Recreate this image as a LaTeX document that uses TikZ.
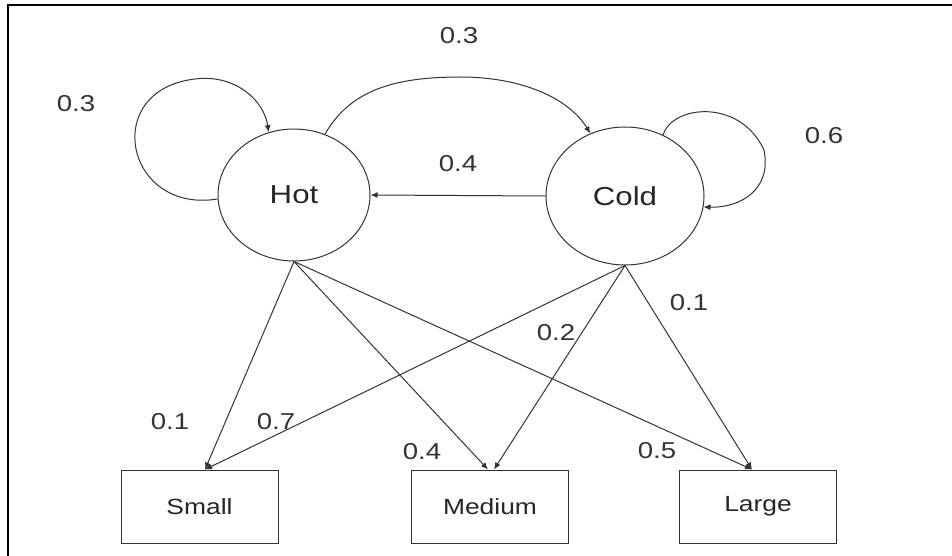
\documentclass[tikz,border=0pt]{standalone}
\usepackage{fontspec}
\setmainfont{Liberation Sans}[FakeStretch=1.2]
\usetikzlibrary{shapes.geometric,arrows.meta}
\begin{document}
\begin{tikzpicture}[x=1pt,y=-1pt,
  ink/.style={draw=black!80,line width=1pt},
  state/.style={ellipse,ink,inner sep=0pt,font=\fontsize{26}{30}\selectfont,text=black!85},
  obs/.style={rectangle,ink,inner sep=0pt,minimum width=157pt,minimum height=73pt,font=\fontsize{22}{26}\selectfont,text=black!85},
  arr/.style={ink,-{Latex[length=7pt,width=6pt]}},
  prob/.style={font=\fontsize{23}{27}\selectfont,text=black!80,inner sep=0pt}]
\useasboundingbox (0,0) rectangle (952,556);
% frame edges
\draw[line width=2.5pt] (8,556) -- (8,5) -- (952,5);

% hidden states
\node[state,minimum width=152pt,minimum height=132pt] (hot) at (294,195) {Hot};
\node[state,minimum width=158pt,minimum height=138pt] (cold) at (625,196) {Cold};

% observations
\node[obs] (small)  at (199.5,506.5) {Small};
\node[obs] (medium) at (490,506.5) {Medium};
\node[obs] (large)  at (758,506.5) {Large};

% transitions
\draw[arr] (hot.183) .. controls (125,214) and (100,90) .. (195,79)
           .. controls (235,74) and (264,100) .. (hot.112);
\draw[arr] (cold.58) .. controls (672,105) and (740,98) .. (764,150)
           .. controls (772,190) and (740,208) .. (cold.352);
\draw[arr] (hot.63) .. controls (350,90) and (395,77) .. (460,77)
           .. controls (525,77) and (570,100) .. (cold.119);
\draw[arr] (cold.180) -- (hot.east);

% emissions
\draw[arr] (hot.south) -- ([xshift=5.5pt]small.north);
\draw[arr] (hot.south) -- ([xshift=-2pt]medium.north);
\draw[arr] (hot.south) -- ([xshift=-6pt]large.north);
\draw[arr] (cold.south) -- ([xshift=5.5pt]small.north);
\draw[arr] (cold.south) -- ([xshift=4pt]medium.north);
\draw[arr] (cold.south) -- ([xshift=-6pt]large.north);

% probabilities
\node[prob] (pHH) at (76,104) {0.3};
\node[prob] (pHC) at (459,36) {0.3};
\node[prob] (pCH) at (458,164) {0.4};
\node[prob] (pCC) at (824,136) {0.6};
\node[prob] (eHS) at (170,422) {0.1};
\node[prob] (eCS) at (276,422) {0.7};
\node[prob] (eHM) at (422,452) {0.4};
\node[prob] (eCM) at (556,333) {0.2};
\node[prob] (eCL) at (689,303) {0.1};
\node[prob] (eHL) at (657,451) {0.5};
\end{tikzpicture}
\end{document}
